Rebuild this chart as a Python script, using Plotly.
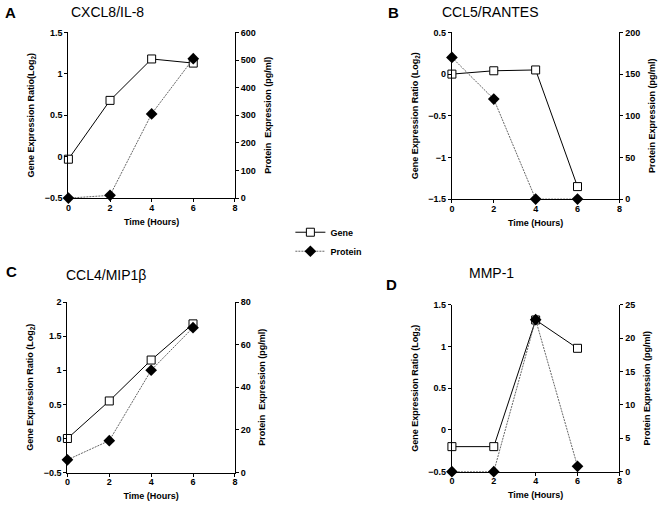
import plotly.graph_objects as go

time_h = [0, 2, 4, 6]

gene_a = [-0.03, 0.68, 1.18, 1.13]
prot_a = [0, 10, 305, 505]
gene_b = [0.0, 0.04, 0.05, -1.35]
prot_b = [170, 120, 0, 0]
gene_c = [0.0, 0.55, 1.15, 1.68]
prot_c = [6, 15, 48, 68]
gene_d = [-0.2, -0.2, 1.32, 0.98]
prot_d = [0, 0, 22.8, 0.8]

titles = ["CXCL8/IL-8", "CCL5/RANTES", "CCL4/MIP1β", "MMP-1"]
letters = ["A", "B", "C", "D"]

W, H = 664, 508
FONT = "Liberation Sans, Arial, Helvetica, sans-serif"

# panel plot areas in pixels: (left, right, top, bottom)
boxes = [(66, 234, 28, 197), (453, 622, 28, 198), (65, 234, 303, 477), (453, 622, 306, 476)]
left_ranges = [[-0.5, 1.5], [-1.5, 0.5], [-0.5, 2], [-0.5, 1.5]]
right_ranges = [[0, 600], [0, 200], [0, 80], [0, 25]]
right_dticks = [100, 50, 20, 5]
left_titles = ["Gene Expression Ratio(Log<sub>2</sub>)", "Gene Expression Ratio (Log<sub>2</sub>)",
               "Gene Expression Ratio (Log<sub>2</sub>)", "Gene Expression Ratio (Log<sub>2</sub>)"]
right_titles = ["Protein  Expression (pg/ml)", "Protein Expression (pg/ml)",
                "Protein  Expression (pg/ml)", "Protein Expression (pg/ml)"]

genes = [gene_a, gene_b, gene_c, gene_d]
prots = [prot_a, prot_b, prot_c, prot_d]

fig = go.Figure()
layout = {}
tickfont = dict(family=FONT, size=9, color="black", weight="bold")
titlefont = dict(family=FONT, size=9, color="black", weight="bold")

for i in range(4):
    l, r, t, b = boxes[i]
    xn = "x" if i == 0 else f"x{i+1}"
    yl = "y" if i == 0 else f"y{2*i+1}"
    yr = f"y{2*i+2}"
    xk = "xaxis" if i == 0 else f"xaxis{i+1}"
    ylk = "yaxis" if i == 0 else f"yaxis{2*i+1}"
    yrk = f"yaxis{2*i+2}"
    layout[xk] = dict(domain=[l / W, r / W], anchor=yl, range=[0, 8], dtick=2,
                      showline=True, linecolor="black", linewidth=1, ticks="outside",
                      ticklen=3, tickcolor="black", showgrid=False, zeroline=False,
                      tickfont=tickfont, ticklabelstandoff=-2,
                      title=dict(text="Time (Hours)", font=titlefont, standoff=6))
    layout[ylk] = dict(domain=[1 - b / H, 1 - t / H], anchor=xn, range=left_ranges[i], dtick=0.5,
                       showline=True, linecolor="black", linewidth=1, ticks="outside",
                       ticklen=3, tickcolor="black", showgrid=False, zeroline=False,
                       tickfont=tickfont,
                       title=dict(text=left_titles[i], font=titlefont, standoff=8))
    layout[yrk] = dict(domain=[1 - b / H, 1 - t / H], anchor=xn, overlaying=yl, side="right",
                       range=right_ranges[i], dtick=right_dticks[i],
                       showline=True, linecolor="black", linewidth=1, ticks="outside",
                       ticklen=3, tickcolor="black", showgrid=False, zeroline=False,
                       tickfont=tickfont,
                       title=dict(text=right_titles[i], font=titlefont, standoff=9))
    fig.add_trace(go.Scatter(x=time_h, y=prots[i], xaxis=xn, yaxis=yr, mode="lines+markers",
                             name="Protein", showlegend=(i == 0), cliponaxis=False,
                             line=dict(color="#666666", width=1, dash="2px,1px"),
                             marker=dict(symbol="diamond", size=9, color="black")))
    fig.add_trace(go.Scatter(x=time_h, y=genes[i], xaxis=xn, yaxis=yl, mode="lines+markers",
                             name="Gene", showlegend=(i == 0), cliponaxis=False,
                             line=dict(color="black", width=1),
                             marker=dict(symbol="square", size=8, color="white",
                                         line=dict(color="black", width=1))))

# (x, y, yanchor) in pixels
letter_pos = [(1, -2, "top"), (387, -2, "top"), (2, 272, "middle"), (385, 285, "middle")]
title_pos = [(68, -2, "top"), (442, -2, "top"), (63, 275, "middle"), (469, 273, "middle")]
ann = []
for i in range(4):
    lx, ly, la = letter_pos[i]
    ann.append(dict(text=letters[i], x=lx / W, y=1 - ly / H, xref="paper", yref="paper",
                    xanchor="left", yanchor=la, showarrow=False, borderpad=0,
                    font=dict(family=FONT, size=15, color="black", weight="bold")))
    tx, ty, ta = title_pos[i]
    ann.append(dict(text=titles[i], x=tx / W, y=1 - ty / H, xref="paper", yref="paper",
                    xanchor="left", yanchor=ta, showarrow=False, borderpad=0,
                    font=dict(family=FONT, size=14, color="black")))

fig.update_layout(**layout)
fig.update_layout(width=W, height=H, margin=dict(l=0, r=0, t=0, b=0),
                  paper_bgcolor="white", plot_bgcolor="white", annotations=ann,
                  legend=dict(x=290 / W, y=1 - 217 / H, xanchor="left", yanchor="top",
                              traceorder="reversed", font=dict(family=FONT, size=9, color="black", weight="bold"),
                              bgcolor="rgba(0,0,0,0)", itemwidth=30, tracegroupgap=0),
                  showlegend=True)

fig.write_html("out.html", config={"displayModeBar": False},
               post_script="document.body.style.margin='0';document.body.style.overflow='hidden';")
